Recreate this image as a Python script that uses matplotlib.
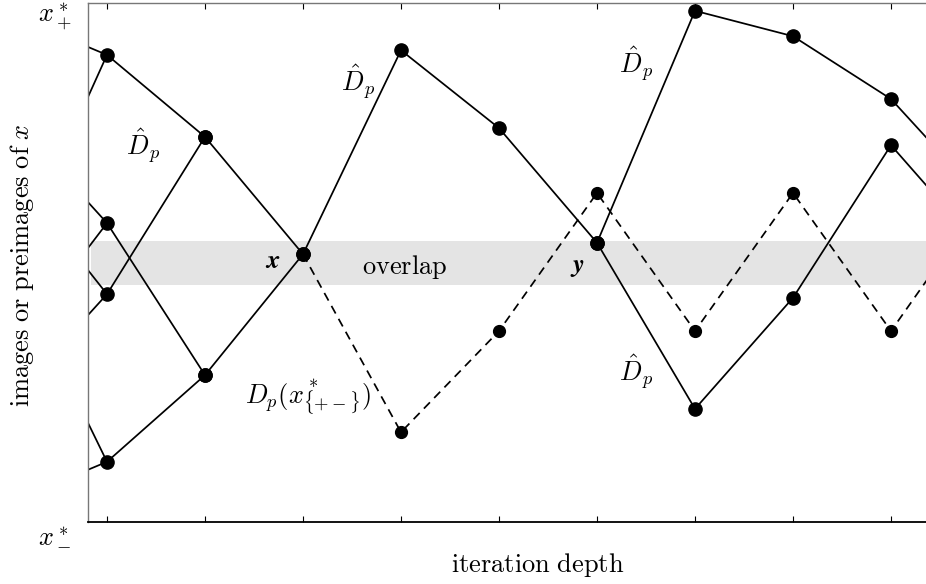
import matplotlib
matplotlib.use("Agg")
import matplotlib.pyplot as plt

plt.rcParams['mathtext.fontset'] = 'cm'
plt.rcParams['font.family'] = ['DejaVu Serif']

# ---- data (depth index, normalized value between x*_- (0) and x*_+ (1)) ----
main_depth = [0, 1, 2, 3, 4, 5, 6, 7, 8, 9]
main_vals = [0.900, 0.742, 0.516, 0.909, 0.759, 0.538, 0.218, 0.432, 0.726, 0.511]

branch_depth = [5, 6, 7, 8, 9]
branch_vals = [0.538, 0.985, 0.936, 0.815, 0.609]

pre_a_depth = [0, 1]
pre_a_vals = [0.576, 0.283]

pre_b_depth = [0, 1, 2]
pre_b_vals = [0.116, 0.283, 0.516]

pre_c_depth = [0, 1]
pre_c_vals = [0.439, 0.742]

# preimages one level further left (off the visible range)
left_from = [0.979, 0.482, 0.784, 0.328, 0.678, 0.231, 0.503, 0.037]
left_to = [0.900, 0.900, 0.576, 0.576, 0.439, 0.439, 0.116, 0.116]

dash_depth = [2, 3, 4, 5, 6, 7, 8, 9]
dash_vals = [0.516, 0.173, 0.368, 0.634, 0.368, 0.634, 0.368, 0.636]

overlap_band = (0.4566, 0.5414)

fig = plt.figure(figsize=(9.26, 5.84), dpi=100)
ax = fig.add_axes([88/926, 62/584, 843/926, 519/584])

ax.axhspan(overlap_band[0], overlap_band[1], xmin=3/843, xmax=1, color='#e4e4e4', lw=0, zorder=0)

lw = 1.25
ms = 9.5
for d, v in [(main_depth, main_vals), (branch_depth, branch_vals),
             (pre_a_depth, pre_a_vals), (pre_b_depth, pre_b_vals),
             (pre_c_depth, pre_c_vals)]:
    ax.plot(d, v, color='black', lw=lw, marker='o', ms=ms, zorder=3)
for a, b in zip(left_from, left_to):
    ax.plot([-1, 0], [a, b], color='black', lw=lw, zorder=2)
ax.plot(dash_depth, dash_vals, color='black', lw=lw, ls=(0, (5, 3.5)), zorder=2)
ax.plot(dash_depth[1:], dash_vals[1:], ls='none', marker='o', color='black', ms=8.5, zorder=3)

ax.set_xlim(-19/98, (931-107)/98)
ax.set_ylim(0, 1)
ax.set_xticks(range(0, 9))
ax.set_xticklabels([])
ax.set_yticks([])
ax.tick_params(axis='x', direction='in', length=4, top=True, bottom=True, width=0.8)
ax.spines['right'].set_visible(False)
ax.spines['left'].set_color('#777777')
ax.spines['top'].set_color('#777777')
ax.spines['left'].set_linewidth(1.0)
ax.spines['top'].set_linewidth(1.0)
ax.spines['bottom'].set_linewidth(1.3)

fs = 19
dhat = r'$\hat{D}_p$'
for x, y in [(0.367, 0.723), (2.561, 0.848), (5.398, 0.882), (5.398, 0.289)]:
    ax.text(x, y, dhat, fontsize=fs, ha='center', va='center')
ax.text(1.694, 0.503, r'$\boldsymbol{x}$', fontsize=fs, ha='center', va='center')
ax.text(4.796, 0.493, r'$\boldsymbol{y}$', fontsize=fs, ha='center', va='center')
ax.text(3.041, 0.491, r'$\mathrm{overlap}$', fontsize=fs, ha='center', va='center')
ax.text(2.051, 0.239, r'$D_p(x^*_{\{+-\}})$', fontsize=fs, ha='center', va='center')

fig.text(55/926, 1-17/584, r'$x^*_+$', fontsize=fs, ha='center', va='center')
fig.text(55/926, 1-535/584, r'$x^*_-$', fontsize=fs, ha='center', va='center')
fig.text(22/926, 1-265/584, r'$\mathrm{images\ or\ preimages\ of\ }x$', fontsize=fs,
         rotation=90, ha='center', va='center')
fig.text(538/926, 1-565/584, r'$\mathrm{iteration\ depth}$', fontsize=fs, ha='center', va='center')

fig.savefig('out.png', dpi=100)
